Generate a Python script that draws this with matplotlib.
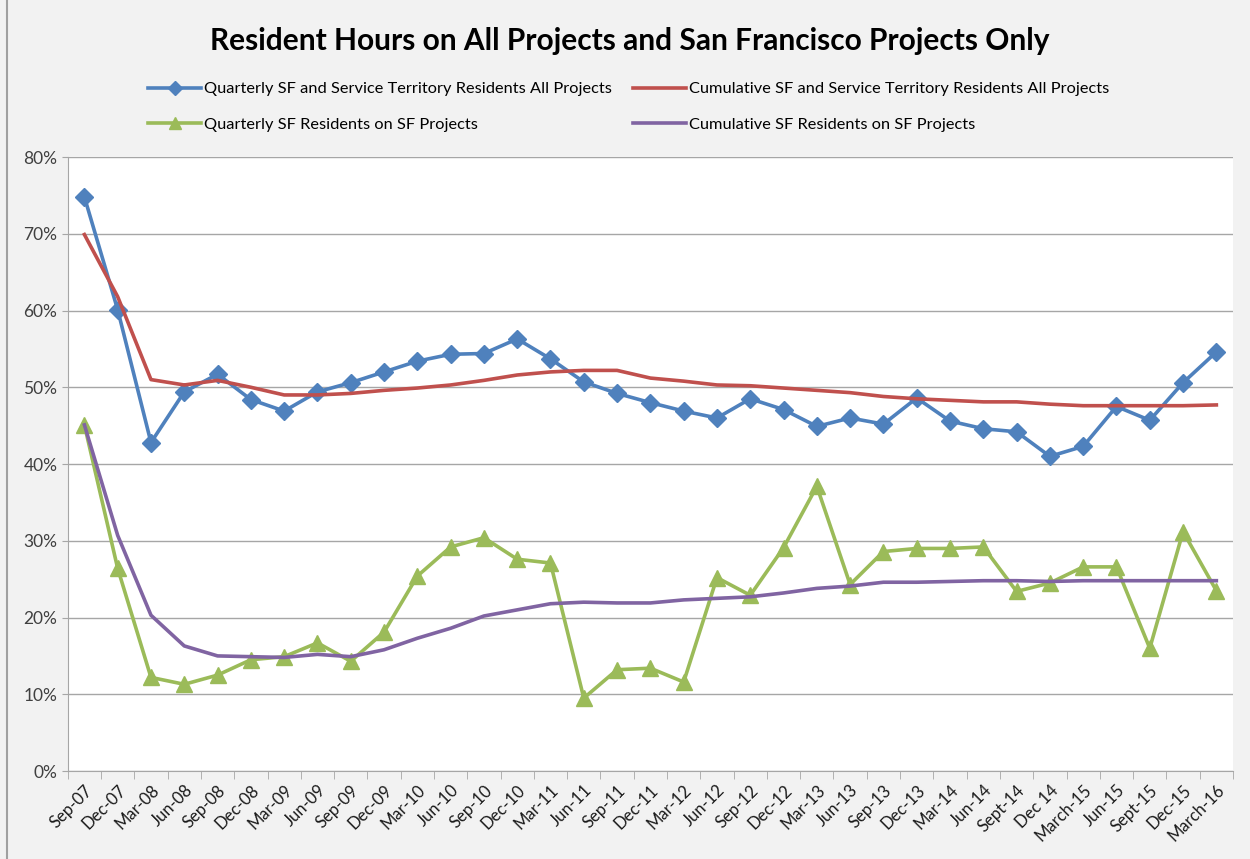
import numpy as np
import matplotlib.pyplot as plt
from matplotlib.lines import Line2D

plt.rcParams['font.family'] = ['Lato', 'DejaVu Sans']

# quarter labels
quarters = ['Sep-07', 'Dec-07', 'Mar-08', 'Jun-08', 'Sep-08', 'Dec-08', 'Mar-09',
            'Jun-09', 'Sep-09', 'Dec-09', 'Mar-10', 'Jun-10', 'Sep-10', 'Dec-10',
            'Mar-11', 'Jun-11', 'Sep-11', 'Dec-11', 'Mar-12', 'Jun-12', 'Sep-12',
            'Dec-12', 'Mar-13', 'Jun-13', 'Sep-13', 'Dec-13', 'Mar-14', 'Jun-14',
            'Sept-14', 'Dec 14', 'March-15', 'Jun-15', 'Sept-15', 'Dec-15', 'March-16']

# percent of resident hours
q_all = [74.8, 60.1, 42.8, 49.4, 51.7, 48.4, 46.9, 49.4, 50.6, 52.0, 53.4, 54.3,
         54.4, 56.3, 53.7, 50.7, 49.2, 48.0, 46.9, 46.0, 48.5, 47.1, 44.9, 46.0,
         45.2, 48.6, 45.6, 44.6, 44.2, 41.0, 42.3, 47.5, 45.7, 50.6, 54.6]
c_all = [69.9, 61.8, 51.0, 50.3, 50.9, 50.0, 49.0, 49.0, 49.2, 49.6, 49.9, 50.3,
         50.9, 51.6, 52.0, 52.2, 52.2, 51.2, 50.8, 50.3, 50.2, 49.9, 49.6, 49.3,
         48.8, 48.5, 48.3, 48.1, 48.1, 47.8, 47.6, 47.6, 47.6, 47.6, 47.7]
q_sf = [45.1, 26.4, 12.2, 11.3, 12.5, 14.5, 14.9, 16.7, 14.3, 18.1, 25.4, 29.2,
        30.4, 27.6, 27.1, 9.5, 13.2, 13.4, 11.6, 25.2, 22.9, 29.1, 37.1, 24.3,
        28.6, 29.0, 29.0, 29.2, 23.4, 24.5, 26.6, 26.6, 16.0, 31.2, 23.5]
c_sf = [45.1, 30.7, 20.3, 16.3, 15.0, 14.9, 14.8, 15.2, 14.9, 15.8, 17.3, 18.6,
        20.2, 21.0, 21.8, 22.0, 21.9, 21.9, 22.3, 22.5, 22.7, 23.2, 23.8, 24.1,
        24.6, 24.6, 24.7, 24.8, 24.8, 24.7, 24.8, 24.8, 24.8, 24.8, 24.8]

blue = '#4F81BD'
red = '#C0504D'
green = '#9BBB59'
purple = '#8064A2'

x = np.arange(len(quarters))

fig = plt.figure(figsize=(12.5, 8.59), dpi=100, facecolor='#F2F2F2')
ax = fig.add_axes([0.0542, 0.1024, 0.9322, 0.7148])
ax.set_facecolor('white')

l1, = ax.plot(x, q_all, color=blue, lw=2.6, marker='D', ms=9,
              label='Quarterly SF and Service Territory Residents All Projects')
l2, = ax.plot(x, c_all, color=red, lw=2.6,
              label='Cumulative SF and Service Territory Residents All Projects')
l3, = ax.plot(x, q_sf, color=green, lw=2.6, marker='^', ms=11,
              label='Quarterly SF Residents on SF Projects')
l4, = ax.plot(x, c_sf, color=purple, lw=2.6,
              label='Cumulative SF Residents on SF Projects')

ax.set_xlim(-0.5, len(quarters) - 0.5)
ax.set_ylim(0, 80)
ax.set_yticks(np.arange(0, 81, 10))
ax.set_yticklabels([f'{v}%' for v in range(0, 81, 10)], fontsize=12.5, color='#404040')
ax.yaxis.grid(True, color='#A6A6A6', lw=1)
ax.set_axisbelow(True)

# category labels in the middle, tick marks on the boundaries
ax.set_xticks(x)
ax.set_xticklabels(quarters, rotation=45, ha='right', rotation_mode='anchor',
                   fontsize=12, color='#1a1a1a')
ax.tick_params(axis='x', which='major', length=0, pad=8)
ax.set_xticks(np.arange(-0.5, len(quarters)), minor=True)
ax.tick_params(axis='x', which='minor', length=6, color='#A6A6A6')
ax.tick_params(axis='y', length=4, color='#A6A6A6')

for s in ['top', 'right']:
    ax.spines[s].set_visible(False)
for s in ['left', 'bottom']:
    ax.spines[s].set_color('#A6A6A6')

fig.text(0.504, 0.952, 'Resident Hours on All Projects and San Francisco Projects Only',
         ha='center', va='center', fontsize=21.5, fontweight='bold')

fig.legend(handles=[l1, l3, l2, l4], ncol=2, loc='center',
           bbox_to_anchor=(0.503, 0.8755), frameon=False, fontsize=11.8,
           handlelength=3.2, handletextpad=0.2, columnspacing=1.3,
           labelspacing=1.3, markerscale=0.8)

# outer chart border
fig.add_artist(Line2D([0.0056, 0.0056], [0, 1], color='#A0A0A0', lw=1.5,
                      transform=fig.transFigure))

fig.savefig('out.png', dpi=100, facecolor=fig.get_facecolor())
